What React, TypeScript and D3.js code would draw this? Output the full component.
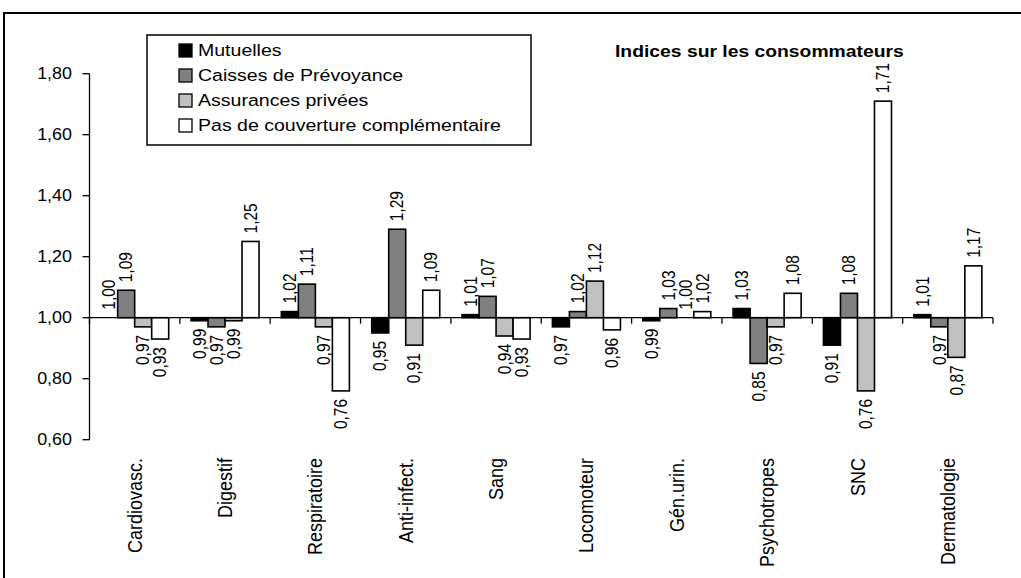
import React from "react";
import * as d3 from "d3";

const categories = ["Cardiovasc.", "Digestif", "Respiratoire", "Anti-infect.", "Sang", "Locomoteur", "Gén.urin.", "Psychotropes", "SNC", "Dermatologie"];
const seriesNames = ["Mutuelles", "Caisses de Prévoyance", "Assurances privées", "Pas de couverture complémentaire"];
const mutuelles = [1.00, 0.99, 1.02, 0.95, 1.01, 0.97, 0.99, 1.03, 0.91, 1.01];
const caisses = [1.09, 0.97, 1.11, 1.29, 1.07, 1.02, 1.03, 0.85, 1.08, 0.97];
const assurances = [0.97, 0.99, 0.97, 0.91, 0.94, 1.12, 1.00, 0.97, 0.76, 0.87];
const sansCouverture = [0.93, 1.25, 0.76, 1.09, 0.93, 0.96, 1.02, 1.08, 1.71, 1.17];
const yTicks = [0.6, 0.8, 1.0, 1.2, 1.4, 1.6, 1.8];
const title = "Indices sur les consommateurs";

const seriesValues = [mutuelles, caisses, assurances, sansCouverture];
const colors = ["#000000", "#808080", "#c0c0c0", "#ffffff"];
const FONT = "'Liberation Sans', Arial, sans-serif";
const fmt = (v: number) => v.toFixed(2).replace(".", ",");

export default function App() {
  const W = 1021, H = 578;
  const axisX = 89.5, axisRight = 993;
  const y = d3.scaleLinear().domain([0.6, 1.8]).range([439.7, 73.7]);
  const x0 = d3.scaleBand<string>().domain(categories).range([axisX, axisRight]).paddingInner(0.247).paddingOuter(0.1235);
  const x1 = d3.scaleBand<number>().domain(d3.range(seriesNames.length)).range([0, x0.bandwidth()]);
  const base = y(1);
  const step = x0.step();

  return (
    <svg width={W} height={H} style={{ position: "absolute", left: 0, top: 0, background: "#fff" }} fontFamily={FONT}>
      <rect x={4} y={13} width={1040} height={600} fill="#fff" stroke="#000" strokeWidth={2} />

      {/* Y axis */}
      <line x1={axisX} x2={axisX} y1={y(1.8)} y2={y(0.6)} stroke="#000" strokeWidth={1.3} />
      {yTicks.map((t) => (
        <g key={t}>
          <line x1={axisX - 7} x2={axisX} y1={y(t)} y2={y(t)} stroke="#000" strokeWidth={1.3} />
          <text transform={`translate(72,${y(t)}) scale(1.12,1)`} textAnchor="end" dy="0.35em" fontSize={16} fill="#000">
            {fmt(t)}
          </text>
        </g>
      ))}

      {/* Bars */}
      {categories.map((c, i) => (
        <g key={c}>
          {seriesValues.map((vals, s) => {
            const v = vals[i];
            const bx = (x0(c) as number) + (x1(s) as number);
            const bw = x1.bandwidth();
            const top = Math.min(y(v), base);
            const h = Math.abs(y(v) - base);
            const cx = bx + bw / 2;
            const up = v >= 1;
            const ly = up ? y(v) - 8 : y(v) + 8;
            return (
              <g key={s}>
                <rect x={bx} y={top} width={bw} height={h} fill={colors[s]} stroke="#000" strokeWidth={1.6} />
                <text transform={`translate(${cx},${ly}) scale(1.15,1) rotate(-90)`} textAnchor={up ? "start" : "end"} dy="0.35em" fontSize={15.5} fill="#000">
                  {fmt(v)}
                </text>
              </g>
            );
          })}
        </g>
      ))}

      {/* Category axis at 1.00 */}
      <line x1={axisX} x2={axisRight} y1={base} y2={base} stroke="#000" strokeWidth={1.3} />
      {d3.range(categories.length + 1).map((i) => (
        <line key={i} x1={axisX + i * step} x2={axisX + i * step} y1={base} y2={base + 6} stroke="#000" strokeWidth={1.3} />
      ))}
      {categories.map((c) => (
        <text key={c} transform={`translate(${(x0(c) as number) + x0.bandwidth() / 2},458) scale(1.12,1) rotate(-90)`} textAnchor="end" dy="0.35em" fontSize={18} fill="#000">
          {c}
        </text>
      ))}

      {/* Legend */}
      <rect x={147} y={35} width={384} height={110} fill="#fff" stroke="#000" strokeWidth={1.5} />
      {seriesNames.map((n, s) => {
        const cy = 50.5 + s * 25;
        return (
          <g key={n}>
            <rect x={179} y={cy - 6.5} width={13} height={13} fill={colors[s]} stroke="#000" strokeWidth={1.3} />
            <text transform={`translate(198,${cy}) scale(1.15,1)`} dy="0.35em" fontSize={17} fill="#000">
              {n}
            </text>
          </g>
        );
      })}

      {/* Title */}
      <text transform="translate(615,56.5) scale(1.15,1)" fontSize={16.8} fontWeight="bold" fill="#000">
        {title}
      </text>
    </svg>
  );
}
